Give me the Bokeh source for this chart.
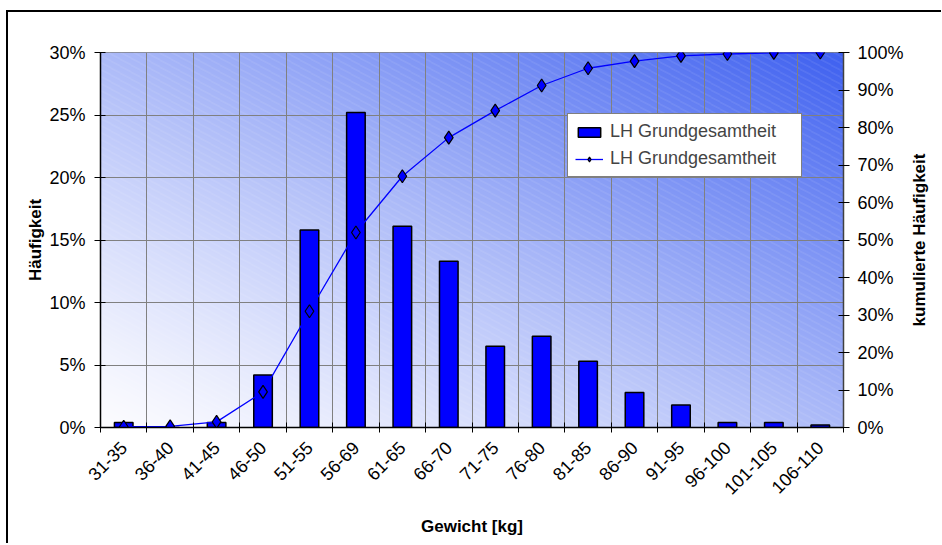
import numpy as np
from bokeh.plotting import figure
from bokeh.models import (Range1d, LinearAxis, FixedTicker, PrintfTickFormatter,
                          CustomJSTickFormatter, Legend, LegendItem, Label)
from bokeh.embed import file_html
from bokeh.resources import INLINE

# Weight classes and relative frequencies (percent)
cats = ["31-35", "36-40", "41-45", "46-50", "51-55", "56-69", "61-65", "66-70",
        "71-75", "76-80", "81-85", "86-90", "91-95", "96-100", "101-105", "106-110"]
freq = [0.4, 0.0, 0.4, 4.2, 15.8, 25.2, 16.1, 13.3, 6.5, 7.3, 5.3, 2.8, 1.8, 0.4, 0.4, 0.2]
cum = [0.2, 0.3, 1.5, 9.5, 31.0, 52.0, 67.0, 77.3, 84.5, 91.2, 95.8, 97.7, 99.1, 99.6, 99.9, 100.0]
freq_ticks = [0, 5, 10, 15, 20, 25, 30]
cum_ticks = [0, 10, 20, 30, 40, 50, 60, 70, 80, 90, 100]
series_name = "LH Grundgesamtheit"

FONT = "Liberation Sans"
n = len(cats)
centers = [i + 0.5 for i in range(n)]
edges = list(range(n + 1))

FW, FH = 743, 375
p = figure(frame_width=FW, frame_height=FH,
           x_range=Range1d(0, n), y_range=Range1d(0, freq_ticks[-1]),
           output_backend="svg", toolbar_location=None,
           min_border_left=92, min_border_right=98, min_border_top=40, min_border_bottom=116)
p.extra_y_ranges = {"cum": Range1d(0, cum_ticks[-1])}
p.background_fill_color = "white"
p.border_fill_color = "white"
p.outline_line_color = "#808080"
p.margin = (10, 0, 0, 6)
p.styles = {"border-top": "2px solid black", "border-left": "2px solid black"}

# diagonal gradient plot-area fill with fine light hatch lines
jj, ii = np.mgrid[0:FH, 0:FW]
t = ((ii / (FW - 1) + jj / (FH - 1)) / 2.0) ** 1.25
c0 = np.array([252.0, 252.0, 255.0])
c1 = np.array([62.0, 96.0, 240.0])
rgb = c0 + (c1 - c0) * t[..., None]
stripe = ((jj + 0.55 * ii) % 7.0) < 1.0
rgb[stripe] = rgb[stripe] + (255.0 - rgb[stripe]) * 0.14
img = np.empty((FH, FW), dtype=np.uint32)
view = img.view(dtype=np.uint8).reshape((FH, FW, 4))
view[..., 0] = rgb[..., 0].astype(np.uint8)
view[..., 1] = rgb[..., 1].astype(np.uint8)
view[..., 2] = rgb[..., 2].astype(np.uint8)
view[..., 3] = 255
p.image_rgba(image=[img], x=0, y=0, dw=n, dh=freq_ticks[-1], level="image")

# grid
p.xgrid.ticker = FixedTicker(ticks=edges)
p.ygrid.ticker = FixedTicker(ticks=freq_ticks)
for g in (p.xgrid, p.ygrid):
    g.grid_line_color = "#808080"
    g.grid_line_width = 1

# bars and cumulative curve
bars = p.vbar(x=centers, top=freq, bottom=0, width=0.4,
              fill_color="#0000ff", line_color="black", line_width=1.5)
curve = p.line(centers, cum, y_range_name="cum", line_color="#0000ff", line_width=1.3)
marks = p.scatter(centers, cum, y_range_name="cum", marker="diamond", size=13,
                  fill_color="#0000ff", line_color="black", line_width=1.2)

# bottom axis: labels at class centres, ticks at class boundaries
xa = p.xaxis[0]
xa.ticker = FixedTicker(ticks=centers, minor_ticks=edges)
xa.formatter = CustomJSTickFormatter(args=dict(labels=cats),
                                     code="return labels[Math.floor(tick)];")
xa.major_tick_line_color = None
xa.minor_tick_line_color = "black"
xa.minor_tick_in = 5
xa.minor_tick_out = 5
xa.major_label_orientation = np.pi / 4
xa.major_label_standoff = 11
xa.axis_label = "Gewicht [kg]"
xa.axis_label_standoff = 14

ya = p.yaxis[0]
ya.ticker = FixedTicker(ticks=freq_ticks)
ya.formatter = PrintfTickFormatter(format="%d%%")
ya.axis_label = "Häufigkeit"
ya.axis_label_standoff = 1
ya.major_label_standoff = 9

yb = LinearAxis(y_range_name="cum", ticker=FixedTicker(ticks=cum_ticks),
                formatter=PrintfTickFormatter(format="%d%%"))
yb.major_label_standoff = 8
p.add_layout(yb, "right")

for ax in (xa, ya, yb):
    ax.axis_line_color = "black"
    ax.axis_line_width = 1.5
    ax.major_label_text_font = FONT
    ax.major_label_text_font_size = "18px"
    ax.major_label_text_color = "black"
    ax.axis_label_text_font = FONT
    ax.axis_label_text_font_size = "17px"
    ax.axis_label_text_font_style = "bold"
    ax.axis_label_text_color = "black"
for ax in (ya, yb):
    ax.minor_tick_line_color = None
    ax.major_tick_line_color = "black"
    ax.major_tick_in = 5
    ax.major_tick_out = 6
yb.axis_line_color = "#404040"

# right axis title, reading bottom to top like the left one
cum_title = Label(x=13, y=FH / 2, x_units="screen", y_units="screen",
                  text="kumulierte Häufigkeit", angle=np.pi / 2,
                  text_align="center", text_baseline="middle",
                  text_font=FONT, text_font_size="17px", text_font_style="bold",
                  text_color="black")
p.add_layout(cum_title, "right")

legend = Legend(items=[LegendItem(label=series_name, renderers=[bars]),
                       LegendItem(label=series_name, renderers=[curve, marks])],
                location=(467, 250))
legend.border_line_color = "black"
legend.border_line_width = 1
legend.background_fill_color = "white"
legend.background_fill_alpha = 1.0
legend.padding = 7
legend.spacing = 6
legend.margin = 0
legend.glyph_width = 28
legend.glyph_height = 12
legend.label_standoff = 7
legend.label_width = 184
legend.label_text_font = FONT
legend.label_text_font_size = "18px"
p.add_layout(legend, "center")

open("out.html", "w").write(file_html(p, INLINE))
